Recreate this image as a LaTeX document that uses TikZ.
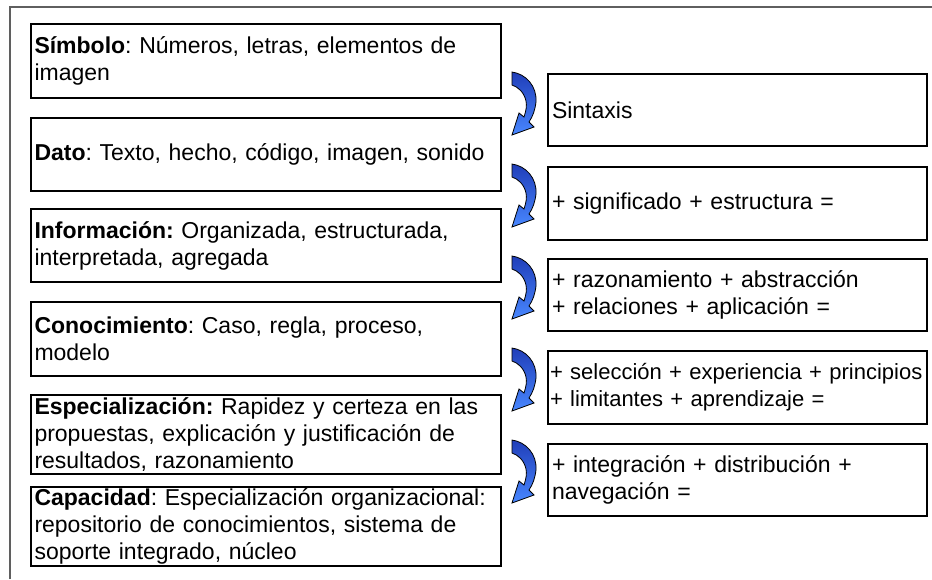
\documentclass[tikz,border=0pt]{standalone}
\usepackage{fontspec}
\setmainfont{Liberation Sans}
\definecolor{arrowdark}{RGB}{32,62,185}
\definecolor{arrowlight}{RGB}{72,135,255}
\definecolor{framegray}{RGB}{95,95,95}
\frenchspacing
\begin{document}
\begin{tikzpicture}[x=1pt,y=-1pt,
  lbox/.style={draw=black,line width=2.4pt,rectangle,inner xsep=3pt,inner ysep=0pt,
    text width=463pt,align=left,minimum width=469.5pt,
    font=\fontsize{23}{27}\selectfont,anchor=center},
  rbox/.style={draw=black,line width=2.4pt,rectangle,inner xsep=4pt,inner ysep=0pt,
    text width=371pt,align=left,minimum width=379pt,
    font=\fontsize{23}{27}\selectfont,anchor=center},
  frameline/.style={draw=framegray,line width=1.5pt},
  curvarrow/.pic={
    \path[draw=black,line width=0.8pt,top color=arrowdark,bottom color=arrowlight]
      (0,0) .. controls (14,2) and (25,14) .. (24,30)
      .. controls (23,38) and (21,44) .. (17,50)
      -- (22,55) -- (0,63) -- (7,41) -- (12,45)
      .. controls (14,39) and (15,34) .. (14,29)
      .. controls (12,20) and (6,15) .. (0,13) -- cycle;
  }]
\useasboundingbox (0,0) rectangle (932,579);
\fill[white] (0,0) rectangle (932,579);
\coordinate (fbl) at (10,579);
\coordinate (ftl) at (10,7);
\coordinate (ftr) at (932,7);
\draw[frameline] (fbl) -- (ftl) -- (ftr);

% left boxes
\node[lbox,minimum height=74pt] (l1) at (266,61) {\textbf{Símbolo}: Números, letras, elementos de\\imagen};
\node[lbox,minimum height=73pt] (l2) at (266,154.5) {\textbf{Dato}: Texto, hecho, código, imagen, sonido};
\node[lbox,minimum height=73pt] (l3) at (266,245.5) {\textbf{Información:} Organizada, estructurada,\\interpretada, agregada};
\node[lbox,minimum height=74pt] (l4) at (266,339) {\textbf{Conocimiento}: Caso, regla, proceso,\\modelo};
\node[lbox,minimum height=79pt] (l5) at (266,434.5) {\textbf{Especialización:} Rapidez y certeza en las\\propuestas, explicación y justificación de\\resultados, razonamiento};
\node[lbox,minimum height=79pt] (l6) at (266,526.5) {\textbf{Capacidad}: Especialización organizacional:\\repositorio de conocimientos, sistema de\\soporte integrado, núcleo};

% right boxes
\node[rbox,minimum height=72pt] (r1) at (737.5,110) {Sintaxis};
\node[rbox,minimum height=73pt] (r2) at (737.5,203.5) {+ significado + estructura =};
\node[rbox,minimum height=72pt] (r3) at (737.5,295) {+ razonamiento + abstracción\\+ relaciones + aplicación =};
\node[rbox,minimum height=73pt,inner xsep=2pt,text width=375pt,font=\fontsize{22}{27}\selectfont] (r4) at (737.5,387.5) {\mbox{+ selección + experiencia + principios}\\\mbox{+ limitantes + aprendizaje =}};
\node[rbox,minimum height=72pt] (r5) at (737.5,480) {+ integración + distribución +\\navegación =};

% curved arrows
\foreach \k in {0,...,4} {
  \pic at (512,72+92*\k) {curvarrow};
}
\end{tikzpicture}
\end{document}
